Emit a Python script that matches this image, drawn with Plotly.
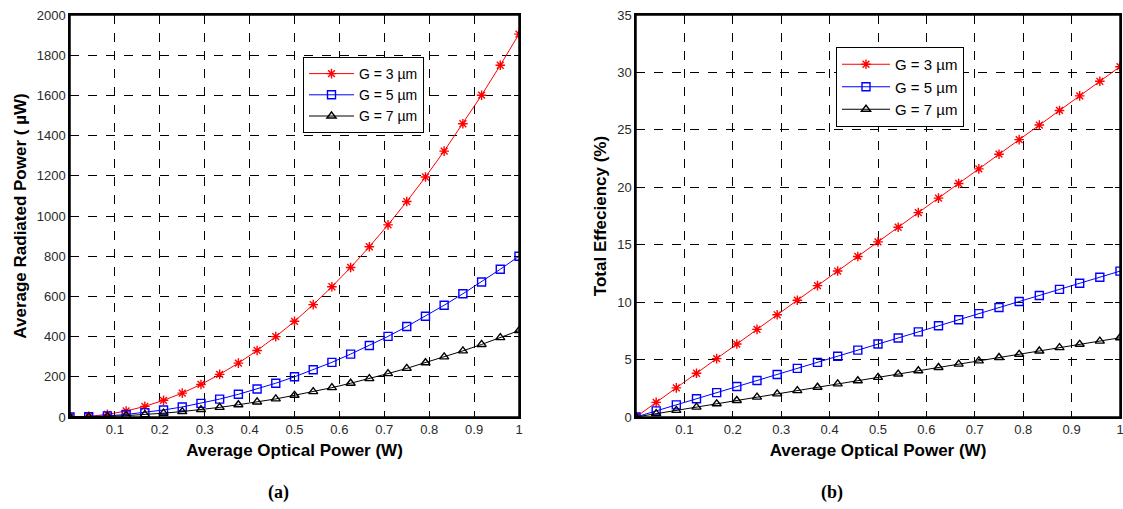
import plotly.graph_objects as go

x = [0, 0.0417, 0.0833, 0.125, 0.1667, 0.2083, 0.25, 0.2917, 0.3333, 0.375, 0.4167, 0.4583,
     0.5, 0.5417, 0.5833, 0.625, 0.6667, 0.7083, 0.75, 0.7917, 0.8333, 0.875, 0.9167, 0.9583, 1.0]

rad_g3 = [0, 3, 13, 30, 53, 83, 119, 162, 212, 268, 331, 400, 476, 559, 648, 744, 847, 956,
          1072, 1194, 1323, 1459, 1601, 1750, 1905]
rad_g5 = [0, 1.4, 5.6, 12.5, 22, 35, 50, 68, 89, 113, 139, 168, 200, 235, 272, 313, 356, 401,
          450, 501, 556, 613, 672, 735, 800]
rad_g7 = [0, 0.8, 3, 6.7, 12, 19, 27, 37, 48, 61, 75, 90, 108, 126, 146, 168, 191, 216,
          242, 270, 299, 329, 361, 395, 430]

eff_g3 = [0, 1.27, 2.54, 3.81, 5.08, 6.35, 7.63, 8.9, 10.17, 11.44, 12.71, 13.98, 15.25, 16.52,
          17.79, 19.06, 20.33, 21.6, 22.88, 24.15, 25.42, 26.69, 27.96, 29.23, 30.5]
eff_g5 = [0, 0.53, 1.06, 1.59, 2.12, 2.65, 3.18, 3.7, 4.23, 4.76, 5.29, 5.82, 6.35, 6.88,
          7.41, 7.94, 8.47, 9.0, 9.53, 10.05, 10.58, 11.11, 11.64, 12.17, 12.7]
eff_g7 = [0, 0.29, 0.58, 0.86, 1.15, 1.44, 1.73, 2.01, 2.3, 2.59, 2.88, 3.16, 3.45, 3.74,
          4.03, 4.31, 4.6, 4.89, 5.18, 5.46, 5.75, 6.04, 6.33, 6.61, 6.9]

names = ["G = 3 µm", "G = 5 µm", "G = 7 µm"]
colors = ["#ff0000", "#0000ff", "#000000"]
symbols = ["asterisk-open", "square-open", "triangle-up-open"]

x_ticks = [0.1, 0.2, 0.3, 0.4, 0.5, 0.6, 0.7, 0.8, 0.9, 1]
x_ticktext = ["0.1", "0.2", "0.3", "0.4", "0.5", "0.6", "0.7", "0.8", "0.9", "1"]
rad_ticks = [0, 200, 400, 600, 800, 1000, 1200, 1400, 1600, 1800, 2000]
eff_ticks = [0, 5, 10, 15, 20, 25, 30, 35]

fig = go.Figure()

for ys, nm, c, s in zip([rad_g3, rad_g5, rad_g7], names, colors, symbols):
    fig.add_trace(go.Scatter(x=x, y=ys, name=nm, mode="lines+markers",
                             line=dict(color=c, width=1),
                             marker=dict(symbol=s, size=8, color=c, line=dict(color=c, width=1.4)),
                             xaxis="x", yaxis="y", legend="legend"))
for ys, nm, c, s in zip([eff_g3, eff_g5, eff_g7], names, colors, symbols):
    fig.add_trace(go.Scatter(x=x, y=ys, name=nm, mode="lines+markers",
                             line=dict(color=c, width=1),
                             marker=dict(symbol=s, size=8, color=c, line=dict(color=c, width=1.4)),
                             xaxis="x2", yaxis="y2", legend="legend2"))

tickfont = dict(family="Liberation Sans, Arial", size=13, color="#2a2a2a")
titlefont = dict(family="Liberation Sans, Arial", size=17, color="#000000", weight="bold")

def axis_common():
    return dict(showline=True, linecolor="black", linewidth=1.5, mirror="ticks",
                ticks="inside", ticklen=5, tickcolor="black", tickwidth=1,
                showgrid=True, gridcolor="black", gridwidth=1, griddash="dash",
                zeroline=False, tickfont=tickfont, automargin=False,
                ticklabeloverflow="allow")

W, H = 1123, 509
ydom = [1 - 417 / H, 1 - 15 / H]

fig.update_layout(
    width=W, height=H,
    margin=dict(l=0, r=0, t=0, b=0),
    paper_bgcolor="white", plot_bgcolor="white",
    xaxis=dict(domain=[70 / W, 519 / W], range=[0, 1], tickvals=x_ticks, ticktext=x_ticktext,
               anchor="y", title=dict(text="Average Optical Power (W)", font=titlefont, standoff=8),
               **axis_common()),
    yaxis=dict(domain=ydom, range=[0, 2000], tickvals=rad_ticks, anchor="x",
               title=dict(text="Average Radiated Power ( µW)", font=titlefont, standoff=6),
               **axis_common()),
    xaxis2=dict(domain=[636 / W, 1120 / W], range=[0, 1], tickvals=x_ticks, ticktext=x_ticktext,
                anchor="y2", title=dict(text="Average Optical Power (W)", font=titlefont, standoff=8),
                **axis_common()),
    yaxis2=dict(domain=ydom, range=[0, 35], tickvals=eff_ticks, anchor="x2",
                title=dict(text="Total Effeciency (%)", font=titlefont, standoff=6),
                **axis_common()),
    legend=dict(x=303 / W, y=1 - 57 / H, xanchor="left", yanchor="top",
                bgcolor="white", bordercolor="black", borderwidth=1,
                font=dict(family="Liberation Sans, Arial", size=14, color="#000000"),
                tracegroupgap=0, itemwidth=45),
    legend2=dict(x=836 / W, y=1 - 47 / H, xanchor="left", yanchor="top",
                 bgcolor="white", bordercolor="black", borderwidth=1,
                 font=dict(family="Liberation Sans, Arial", size=15, color="#000000"),
                 tracegroupgap=0, itemwidth=48),
    shapes=[
        dict(type="rect", xref="x domain", yref="y domain", x0=0, x1=1, y0=0, y1=1,
             line=dict(color="black", width=1.5), layer="above"),
        dict(type="rect", xref="x2 domain", yref="y2 domain", x0=0, x1=1, y0=0, y1=1,
             line=dict(color="black", width=1.5), layer="above"),
    ],
    annotations=[
        dict(text="<b>(a)</b>", x=278 / W, y=1 - 492 / H, xref="paper", yref="paper",
             xanchor="center", yanchor="middle",
             showarrow=False, font=dict(family="Liberation Serif, Times New Roman", size=18, color="black")),
        dict(text="<b>(b)</b>", x=832 / W, y=1 - 492 / H, xref="paper", yref="paper",
             xanchor="center", yanchor="middle",
             showarrow=False, font=dict(family="Liberation Serif, Times New Roman", size=18, color="black")),
    ],
)

fig.write_html("out.html", config={"displayModeBar": False},
               post_script="document.body.style.margin='0';document.body.style.overflow='hidden';")
